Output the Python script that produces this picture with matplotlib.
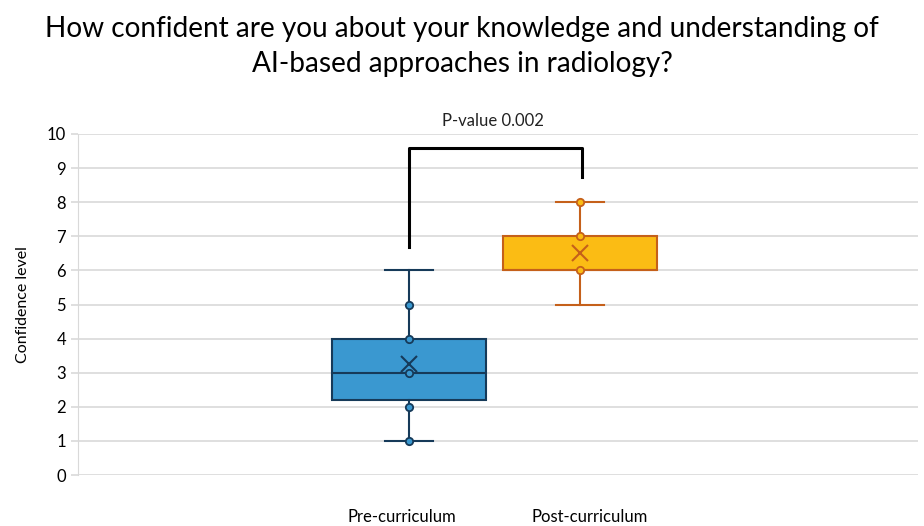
import matplotlib
matplotlib.use("Agg")
import matplotlib.pyplot as plt

groups = ["Pre-curriculum", "Post-curriculum"]
whislo = [1, 5]
q1 = [2.2, 6]
med = [3, 6]
q3 = [4, 7]
whishi = [6, 8]
means = [3.25, 6.5]
inner_points = [[1, 2, 3, 4, 5], [6, 7, 8]]
fills = ["#3A98D0", "#FBBC14"]
edges = ["#163A59", "#C5601A"]
pvalue_text = "P-value 0.002"

plt.rcParams['font.family'] = ['Lato', 'DejaVu Sans']
fig = plt.figure(figsize=(9.24, 5.26), dpi=100)
ax = fig.add_axes([78/924, 1-475/526, 840/924, 341/526])

positions = [1, 2]
for i in range(2):
    st = [dict(whislo=whislo[i], q1=q1[i], med=med[i], q3=q3[i], whishi=whishi[i],
               mean=means[i], fliers=[], label=groups[i])]
    ax.bxp(st, positions=[positions[i]], widths=0.906, patch_artist=True,
           showmeans=True, meanline=False,
           boxprops=dict(facecolor=fills[i], edgecolor=edges[i], linewidth=1.5),
           medianprops=dict(color=edges[i], linewidth=1.5),
           whiskerprops=dict(color=edges[i], linewidth=1.5),
           capprops=dict(color=edges[i], linewidth=1.5),
           capwidths=0.28,
           meanprops=dict(marker='x', markeredgecolor=edges[i], markersize=11, markeredgewidth=1.5),
           manage_ticks=False, zorder=3)
    ax.scatter([positions[i]]*len(inner_points[i]), inner_points[i], s=28,
               facecolor=fills[i], edgecolor=edges[i], linewidth=1.3, zorder=5)

# significance bracket
ax.plot([1, 1, 2.01, 2.01], [6.7, 9.6, 9.6, 8.75], color="black", linewidth=2.2,
        zorder=4, clip_on=False)
ax.text(1.49, 10.38, pvalue_text, ha='center', va='center', fontsize=12, color='#222222')

ax.set_xlim(-0.936, 3.977)
ax.set_ylim(0, 10)
ax.set_yticks(range(0, 11))
ax.set_xticks([])
ax.grid(axis='y', color='#D9D9D9', linewidth=1.2)
ax.set_axisbelow(True)
for s in ['top', 'right', 'bottom']:
    ax.spines[s].set_visible(False)
ax.spines['left'].set_color('#D9D9D9')
ax.tick_params(axis='y', colors='#D9D9D9', labelcolor='black', labelsize=12, length=5, width=1.2)
ax.set_ylabel("Confidence level", fontsize=11.5, labelpad=12)

fig.text(0.5, 1-46.5/526, "How confident are you about your knowledge and understanding of\nAI-based approaches in radiology?",
         ha='center', va='center', fontsize=20.2, linespacing=1.4)
fig.text(402/924, 1-517/526, groups[0], ha='center', va='center', fontsize=12)
fig.text(590/924, 1-517/526, groups[1], ha='center', va='center', fontsize=12)

fig.savefig("out.png", dpi=100)
